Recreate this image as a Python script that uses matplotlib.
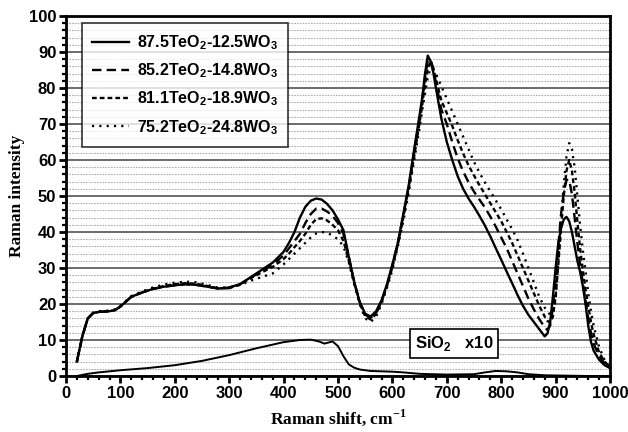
import matplotlib
matplotlib.use("Agg")
import matplotlib.pyplot as plt
from matplotlib.ticker import MultipleLocator

plt.rcParams['font.family'] = ['Liberation Sans', 'DejaVu Sans']
plt.rcParams['font.weight'] = 'bold'

# ---------------- data ----------------
shift = [20, 30, 40, 50, 60, 70, 80, 90, 100,
         120, 140, 160, 180, 200, 220, 240, 260, 280, 300, 320, 340,
         360, 380, 400,
         410, 420, 430, 440, 450, 460, 470, 480, 490, 500, 510, 520, 530, 540, 550,
         560, 570, 580, 590, 600, 610, 620, 630, 640, 650,
         655, 660, 665, 670, 675, 680,
         690, 700, 710, 720, 730, 740, 750, 760, 770, 780, 790, 800, 810, 820, 830,
         840, 850, 860, 870, 880,
         885, 890, 895, 900, 905, 910, 915, 920, 925, 930, 935, 940, 945, 950, 955,
         960, 965, 970,
         980, 990, 1000]

low_common = [4, 11, 16, 17.5, 17.8, 17.9, 18.0, 18.3, 19.3,
              22.0, 23.2, 24.2, 24.8, 25.2, 25.5, 25.3, 24.8, 24.3, 24.6, 25.5, 27.5]

te875 = low_common + [
    29.5, 31.5, 34.5,
    37, 40, 44, 47, 48.7, 49.3, 49, 47.8, 46, 43.5, 40.5, 33, 26, 20.5, 17.3,
    16.5, 18, 21, 25.5, 31, 37, 45, 53, 63, 72.5,
    77.5, 84, 89, 87.5, 84.5, 80,
    71.5, 65, 60, 55.5, 52, 49.3, 47, 44.5, 41.8, 38.8, 35.5, 32.3, 29, 25.8, 22.5,
    19.5, 17, 15, 13, 11,
    11.8, 15, 22, 30, 37, 41, 43.5, 44.2, 43, 40, 36, 32, 29, 25, 20,
    14, 9.5, 7,
    4.5, 3, 2.2]

te852 = low_common[:-3] + [24.4, 25.5, 27.4] + [
    29.0, 31, 33.5,
    35.5, 37.5, 39.5, 42.5, 45, 46.5, 46.5, 45.7, 44.5, 42.5, 39.5, 33, 26, 20.5, 17,
    16.2, 17.5, 20.7, 25.2, 30.7, 37, 44.5, 52.5, 62, 71.5,
    77, 83, 87.5, 88, 85.5, 81.5,
    74, 70, 65, 60.5, 56.8, 53.8, 51.2, 49, 46.8, 44.3, 41.5, 38.5, 35.5, 32, 28.5,
    25, 21.5, 18.5, 15.8, 13.5,
    12.8, 14, 19, 27, 36, 45, 51, 54.5, 54.5, 50.5, 44, 37, 31, 26, 21,
    16, 12, 9,
    5.5, 3.5, 2.3]

te811 = [4, 11, 16, 17.5, 17.8, 17.9, 18.0, 18.3, 19.3,
         22.0, 23.2, 24.3, 25.0, 25.5, 25.8, 25.6, 25.0, 24.3, 24.5, 25.4, 27.2] + [
    28.8, 30.3, 32.5,
    34, 35.8, 37.5, 39.5, 42, 43.6, 43.8, 43.2, 42, 40.5, 37.5, 32, 25.7, 20.2, 16.6,
    15.7, 17.2, 20.5, 25, 30.3, 36.5, 44, 52, 61, 70.5,
    75.5, 81, 85.5, 87, 85.5, 82.5,
    76.5, 73, 69.5, 65.5, 61.8, 58.5, 55.7, 53, 50.5, 48, 45.5, 43, 40, 37, 33.5,
    30, 26.5, 23, 19.5, 16.5,
    15.3, 14.8, 16.5, 22, 31, 41, 50, 57, 60, 57, 51, 43, 35.5, 29.5, 24,
    19.5, 15, 11.5,
    6.5, 4, 2.5]

te752 = [4, 11, 16, 17.6, 18.0, 18.1, 18.2, 18.5, 19.5,
         22.2, 23.5, 24.6, 25.4, 25.9, 26.2, 26.0, 25.3, 24.5, 24.6, 25.3, 26.5] + [
    27.5, 28.5, 31,
    32.5, 34, 35.5, 37, 38.5, 39.6, 40, 39.8, 39, 38, 36, 31.5, 25.5, 20, 16,
    15, 16.5, 20, 24.5, 29.5, 36, 43, 51, 60, 69,
    74, 78.5, 83, 85.5, 85, 84,
    80.5, 77, 73.5, 70, 66.5, 63, 59.5, 56.5, 53.8, 51.3, 48.8, 46.3, 43.5, 40.8, 37.8,
    34, 30, 26, 22, 19,
    18, 17, 17.5, 21, 32, 43, 53, 61, 64.7, 63, 58, 50, 42, 35, 29,
    23, 18, 14,
    8, 4.5, 2.5]

sio2_shift = [20, 40, 60, 80, 100, 150, 200, 250, 300, 350, 400, 430, 450, 465,
              475, 490, 500, 510, 520, 530, 540, 560, 600, 620, 650, 700, 750,
              770, 790, 810, 830, 850, 880, 920, 960, 1000]
sio2 = [0, 0.6, 1.0, 1.3, 1.6, 2.2, 3.0, 4.2, 5.8, 7.7, 9.4, 10, 10.1, 9.6,
        9.0, 9.6, 8.3, 5.5, 3.2, 2.3, 1.8, 1.4, 1.2, 1.0, 0.6, 0.4, 0.5,
        1.0, 1.4, 1.3, 1.0, 0.5, 0.2, 0.1, 0, 0]

labels = ['87.5TeO$_\\mathregular{2}$-12.5WO$_\\mathregular{3}$',
          '85.2TeO$_\\mathregular{2}$-14.8WO$_\\mathregular{3}$',
          '81.1TeO$_\\mathregular{2}$-18.9WO$_\\mathregular{3}$',
          '75.2TeO$_\\mathregular{2}$-24.8WO$_\\mathregular{3}$']
styles = ['-', (0, (4, 2.2)), (0, (2, 1.3)), (0, (0.9, 2.2))]
series = [te875, te852, te811, te752]

# ---------------- figure ----------------
fig = plt.figure(figsize=(6.28, 4.32), dpi=100)
ax = fig.add_axes([66 / 628, 1 - 376 / 432, (610 - 66) / 628, (376 - 16) / 432])

ax.yaxis.set_major_locator(MultipleLocator(10))
ax.yaxis.set_minor_locator(MultipleLocator(2))
ax.xaxis.set_major_locator(MultipleLocator(100))
ax.xaxis.set_minor_locator(MultipleLocator(20))
ax.grid(True, axis='y', which='major', color='#606060', lw=1.3, ls='-', zorder=0)
ax.grid(True, axis='y', which='minor', color='#b0b0b0', lw=0.8, ls=(0, (1.5, 1)), zorder=0)
ax.set_axisbelow(True)

for y, ls, lab in zip(series, styles, labels):
    ax.plot(shift, y, color='black', lw=1.7, ls=ls, label=lab, zorder=3)
ax.plot(sio2_shift, sio2, color='black', lw=1.4, ls='-', zorder=3)

ax.set_xlim(0, 1000)
ax.set_ylim(0, 100)

for s in ax.spines.values():
    s.set_linewidth(2)
ax.tick_params(which='major', direction='out', length=5, width=2, labelsize=12, pad=2)
ax.tick_params(which='minor', direction='out', length=3, width=1.6)
for t in ax.get_xticklabels() + ax.get_yticklabels():
    t.set_fontweight('bold')

ax.set_xlabel('Raman shift, cm$^{\\mathregular{-1}}$', family='Liberation Serif',
              fontweight='bold', fontsize=12.5, labelpad=5)
ax.set_ylabel('Raman intensity', family='Liberation Serif', fontweight='bold',
              fontsize=12.5, labelpad=3)

leg = ax.legend(loc='upper left', bbox_to_anchor=(0.029, 0.981), frameon=True,
                fancybox=False, edgecolor='black', handlelength=2.3,
                labelspacing=0.6, borderpad=0.65, handletextpad=0.5,
                borderaxespad=0, prop={'weight': 'bold', 'size': 11.5})
leg.get_frame().set_linewidth(1.2)
leg.set_zorder(5)

ax.text(713, 8.9, 'SiO$_\\mathregular{2}$   x10', ha='center', va='center',
        fontsize=12, fontweight='bold', zorder=6,
        bbox=dict(boxstyle='square,pad=0.3', fc='white', ec='black', lw=1.2))

fig.savefig('out.png', dpi=100)
